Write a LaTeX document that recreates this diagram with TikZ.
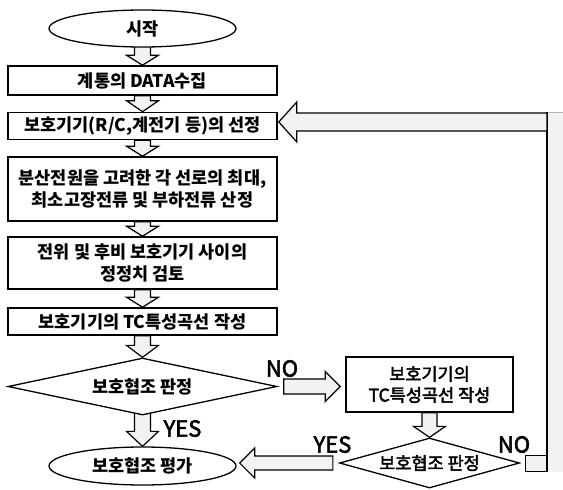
\documentclass[tikz,border=0pt]{standalone}
\usepackage{fontspec}
\setmainfont{Noto Sans CJK KR}
\newfontfamily\korlight[FakeBold=2.5]{Noto Sans CJK KR}
\usetikzlibrary{shapes.geometric, positioning, calc}

\pgfdeclarelayer{bg}
\pgfsetlayers{bg,main}

% block arrow: from, to (tip), stem half width, head half width, head length
\newcommand{\blockarrow}[5]{%
  \begin{pgfonlayer}{bg}
  \coordinate (ba-h) at ($(#2)!#5!(#1)$);
  \draw[blockar] ($(#1)!#3!90:(#2)$) -- ($(ba-h)!#3!90:(#2)$) -- ($(ba-h)!#4!90:(#2)$) -- (#2)
    -- ($(ba-h)!#4!-90:(#2)$) -- ($(ba-h)!#3!-90:(#2)$) -- ($(#1)!#3!-90:(#2)$) -- cycle;
  \end{pgfonlayer}}

\begin{document}
\begin{tikzpicture}[
    x=1pt, y=-1pt,
    font=\bfseries\fontsize{17.5}{22}\selectfont,
    procbox/.style={draw, line width=1.6pt, rectangle, minimum width=269pt, align=center, fill=white, inner sep=0pt},
    terminal/.style={draw, line width=1.3pt, ellipse, minimum width=187pt, minimum height=37pt, fill=white, inner sep=0pt},
    decision/.style={draw, line width=1.3pt, diamond, aspect=4.7, inner sep=0pt, fill=white},
    blockar/.style={draw, line width=1.2pt, fill=gray!10, line join=miter},
    plaintext/.style={font=\korlight\fontsize{17.5}{21}\selectfont},
    answer/.style={font=\korlight\fontsize{22}{24}\selectfont}
]
    \path[use as bounding box] (0,0) rectangle (563,490);

    % --- Main flow ---
    \node[terminal] (start) at (142.5,28.5) {시작};
    \node[procbox, minimum height=29pt] (data) at (142.5,80.5) {계통의 DATA수집};
    \node[procbox, minimum height=27pt] (select) at (142.5,126) {보호기기(R/C,계전기 등)의 선정};
    \node[procbox, minimum height=64pt] (fault) at (142.5,189) {분산전원을 고려한 각 선로의 최대,\\최소고장전류 및 부하전류 산정};
    \node[procbox, minimum height=52pt] (setting) at (142.5,263) {전위 및 후비 보호기기 사이의\\정정치 검토};
    \node[procbox, minimum height=27pt] (curve) at (142.5,321.5) {보호기기의 TC특성곡선 작성};
    \node[decision, minimum width=269pt, minimum height=57pt] (judge) at (142.5,386.5) {보호협조 판정};
    \node[terminal, minimum height=38pt] (eval) at (142.5,466) {보호협조 평가};

    % --- Side branch ---
    \node[procbox, minimum width=167pt, minimum height=55pt, plaintext] (recurve) at (429.5,384.5) {보호기기의\\TC특성곡선 작성};
    \node[decision, minimum width=180pt, minimum height=50pt, aspect=3.6, plaintext] (rejudge) at (429.5,463) {보호협조 판정};

    % --- Arrows down the main flow ---
    \blockarrow{[yshift=2pt]start.south}{data.north}{8pt}{16pt}{10pt}
    \blockarrow{data.south}{select.north}{8pt}{16pt}{11pt}
    \blockarrow{select.south}{fault.north}{8pt}{16pt}{10pt}
    \blockarrow{fault.south}{setting.north}{8pt}{16pt}{10pt}
    \blockarrow{setting.south}{curve.north}{8pt}{16pt}{10pt}
    \blockarrow{curve.south}{judge.north}{8pt}{16pt}{12pt}
    \blockarrow{[yshift=4pt]judge.south}{eval.north}{8pt}{16pt}{15pt}

    % --- NO branch ---
    \coordinate (noend) at (recurve.west |- judge.east);
    \blockarrow{[xshift=6pt]judge.east}{[xshift=-5pt]noend}{7.5pt}{15pt}{15pt}
    \blockarrow{recurve.south}{rejudge.north}{7.5pt}{16pt}{11pt}

    % YES back to evaluation
    \coordinate (yesend) at (rejudge.west -| eval.east);
    \blockarrow{[xshift=-6pt]rejudge.west}{[xshift=3pt]yesend}{7pt}{15pt}{15pt}

    % NO feedback to the selection step
    \coordinate (fbtop) at (547,122);
    \coordinate (fbbot) at (547,464);
    \coordinate (fbtip) at (fbtop -| select.east);
    \begin{pgfonlayer}{bg}
    \fill[gray!10] ($(fbtop)+(0,-10)$) rectangle ($(fbbot)+(16,8)$);
    \draw[gray!60, line width=1pt] ($(fbtop)+(0,-10)$) -- ++(16,0);
    \draw[line width=1.5pt] ($(fbtop)+(0,-10)$) -- ($(fbbot)+(0,8)$);
    \draw[blockar] ($(rejudge.east)+(5,-7.5)$) rectangle ($(fbbot)+(0,7.5)$);
    \end{pgfonlayer}
    \blockarrow{fbtop}{[xshift=1pt]fbtip}{9pt}{20pt}{18pt}

    % --- Labels ---
    \node[answer] (no1) at (282,368.5) {NO};
    \node[answer] (yes1) at (182.5,428.5) {YES};
    \node[answer] (yes2) at (332.5,444.5) {YES};
    \node[answer] (no2) at (514,444.5) {NO};

\end{tikzpicture}
\end{document}
